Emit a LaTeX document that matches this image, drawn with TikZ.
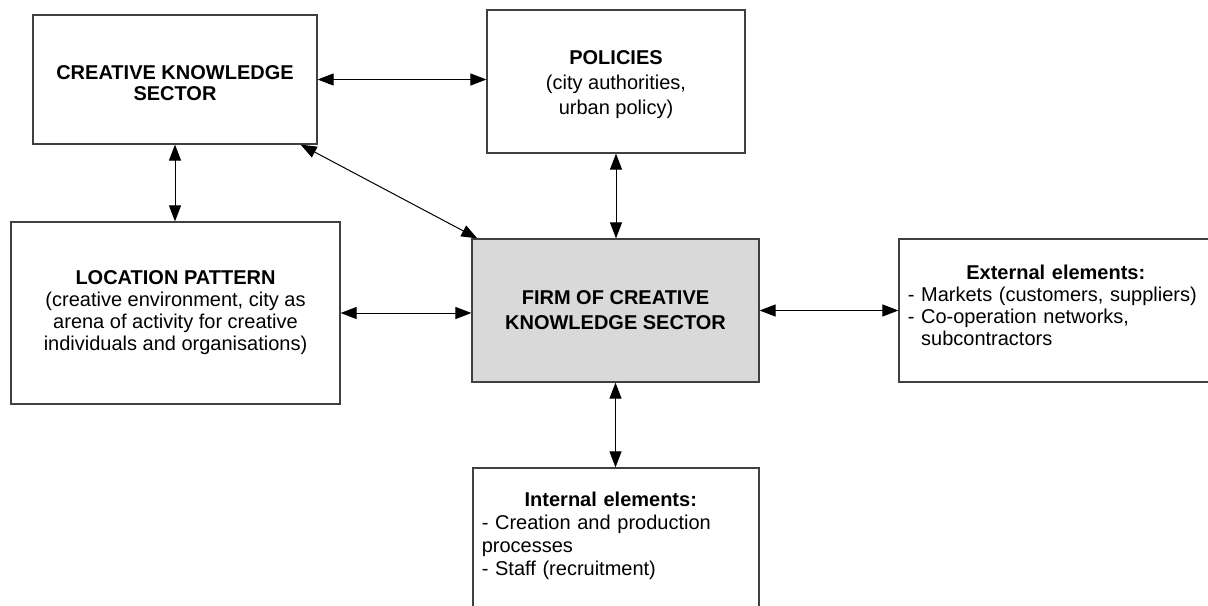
\documentclass[tikz,border=0pt]{standalone}
\usepackage{fontspec}
\setmainfont{Liberation Sans}
\usetikzlibrary{arrows.meta,calc}
\definecolor{boxline}{HTML}{404040}
\definecolor{firmfill}{HTML}{D9D9D9}
\begin{document}
\begin{tikzpicture}[x=0.5pt,y=-0.5pt,
  box/.style={draw=boxline, line width=0.6pt, rectangle, inner sep=0pt, align=center},
  link/.style={{Triangle[length=8pt,width=6pt]}-{Triangle[length=8pt,width=6pt]}, line width=0.5pt, draw=black},
  listtext/.style={anchor=north west, inner sep=0pt, align=left}
]
\useasboundingbox (0,0) rectangle (1208,605);
\clip (0,0) rectangle (1208,605);

% boxes
\node[box, minimum width=142pt, minimum height=64.5pt, font=\fontsize{10}{10.5}\selectfont\bfseries]
  (cks) at (175,79.5) {\rule{0pt}{10.2pt}CREATIVE KNOWLEDGE\\SECTOR};
\node[box, minimum width=129pt, minimum height=71.5pt, font=\fontsize{10}{12.5}\selectfont]
  (pol) at (616,81.5) {\rule{0pt}{10.2pt}\textbf{POLICIES}\\(city authorities,\\urban policy)};
\node[box, minimum width=164.5pt, minimum height=91pt, font=\fontsize{10}{11}\selectfont]
  (loc) at (175.5,313) {\textbf{LOCATION PATTERN}\\(creative environment, city as\\arena of activity for creative\\individuals and organisations)};
\node[box, fill=firmfill, minimum width=143.5pt, minimum height=71.5pt, font=\fontsize{10}{12.5}\selectfont\bfseries]
  (firm) at (615.5,310.5) {FIRM OF CREATIVE\\KNOWLEDGE SECTOR};
\node[box, minimum width=157pt, minimum height=71.5pt] (ext) at (1056,310.5) {};
\node[box, minimum width=143pt, minimum height=80pt] (int) at (616,548) {};

% list texts
\node[listtext, text width=148pt, font=\fontsize{10}{11}\selectfont]
  (extT) at ($(ext.north west)+(9,26.5)$)
  {\makebox[\linewidth][c]{\bfseries External elements:}\\
   - Markets (customers, suppliers)\\
   - Co-operation networks,\\
   \phantom{- }subcontractors};
\node[listtext, text width=129pt, font=\fontsize{10}{11.5}\selectfont]
  (intT) at ($(int.north west)+(9,24.5)$)
  {\makebox[\linewidth][c]{\bfseries Internal elements:}\\
   - Creation and production\\
   processes\\
   - Staff (recruitment)};

% connectors
\draw[link] (cks.east) -- (cks.east -| pol.west);
\draw[link] (cks.south) -- (cks.south |- loc.north);
\draw[link] (pol.south) -- (pol.south |- firm.north);
\draw[link] ($(cks.south east)+(-17,0)$) -- ($(firm.north west)+(6,0)$);
\draw[link] (loc.east) -- (loc.east -| firm.west);
\draw[link] (firm.east) -- (firm.east -| ext.west);
\draw[link] (firm.south) -- (firm.south |- int.north);
\end{tikzpicture}
\end{document}
